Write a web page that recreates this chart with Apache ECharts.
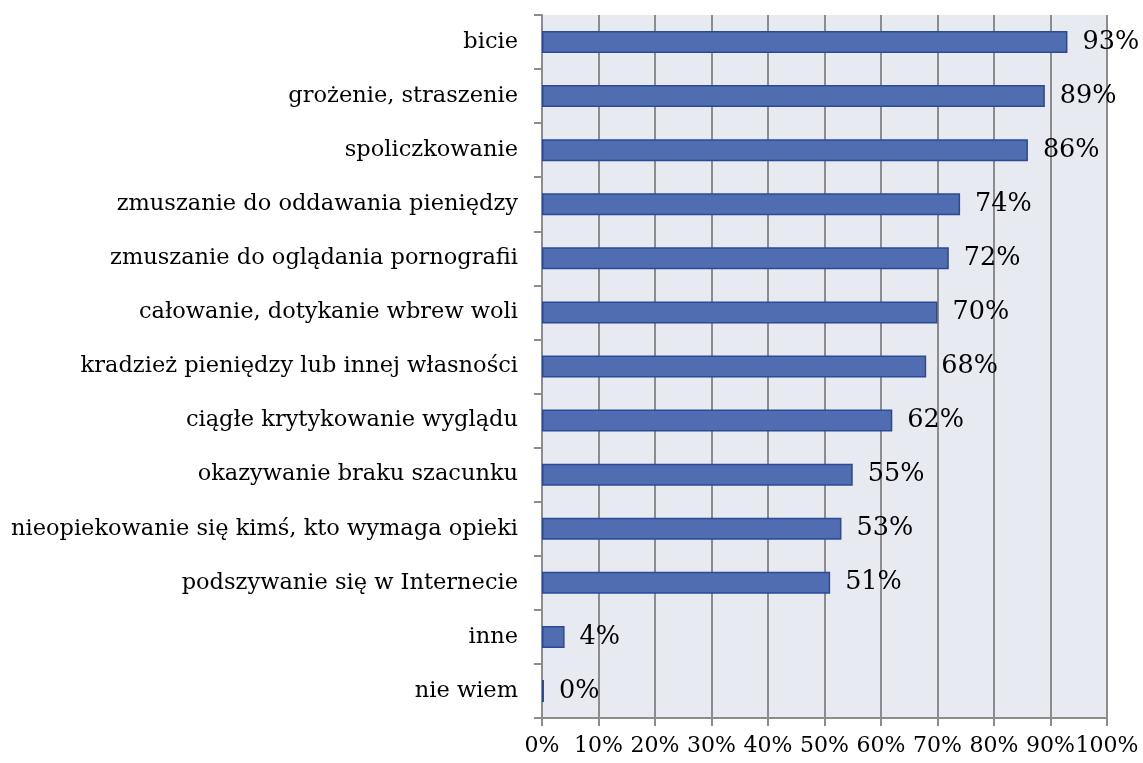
<!DOCTYPE html>
<html>
<head>
<meta charset="utf-8">
<script src="https://cdn.jsdelivr.net/npm/echarts@6/dist/echarts.min.js"></script>
<style>
html,body{margin:0;padding:0;background:#fff;}
#main{width:1143px;height:763px;}
</style>
</head>
<body>
<div id="main"></div>
<script>
var categories = ['bicie', 'grożenie, straszenie', 'spoliczkowanie', 'zmuszanie do oddawania pieniędzy',
	'zmuszanie do oglądania pornografii', 'całowanie, dotykanie wbrew woli', 'kradzież pieniędzy lub innej własności',
	'ciągłe krytykowanie wyglądu', 'okazywanie braku szacunku', 'nieopiekowanie się kimś, kto wymaga opieki',
	'podszywanie się w Internecie', 'inne', 'nie wiem'];
var values = [93, 89, 86, 74, 72, 70, 68, 62, 55, 53, 51, 4, 0];
// tiny visible sliver for the 0% bar, as in the original
var barLengths = values.map(function (v) { return v === 0 ? 0.35 : v; });

var font = 'DejaVu Serif';
var option = {
	textStyle: { fontFamily: font },
	grid: {
		left: 542, right: 36, top: 15, bottom: 45,
		show: true, backgroundColor: '#e8eaf2', borderWidth: 0
	},
	xAxis: {
		type: 'value', min: 0, max: 100, interval: 10,
		axisLine: { show: true, lineStyle: { color: '#8c8c8c', width: 2 } },
		axisTick: { show: true, length: 8, lineStyle: { color: '#8c8c8c', width: 2 } },
		axisLabel: {
			formatter: '{value}%', color: '#000', fontSize: 22, fontFamily: font, margin: 17,
			showMinLabel: true, showMaxLabel: true, hideOverlap: false
		},
		splitLine: { show: true, lineStyle: { color: '#8c8c8c', width: 2 } }
	},
	yAxis: {
		type: 'category', data: categories, inverse: true,
		axisLine: { show: true, lineStyle: { color: '#8c8c8c', width: 2 } },
		axisTick: { show: true, length: 8, lineStyle: { color: '#8c8c8c', width: 2 } },
		axisLabel: { color: '#000', fontSize: 22.5, fontFamily: font, margin: 24 },
		splitLine: { show: false }
	},
	series: [{
		type: 'bar',
		data: barLengths,
		barWidth: 22,
		itemStyle: { color: '#4f6db0', borderColor: '#2a4a98', borderWidth: 1.5 },
		label: {
			show: true, position: 'right', distance: 15,
			color: '#000', fontSize: 25.5, fontFamily: font,
			formatter: function (p) { return values[p.dataIndex] + '%'; }
		},
		silent: true
	}]
};
var myChart = echarts.init(document.getElementById('main'));
myChart.setOption(option);
</script>
</body>
</html>
